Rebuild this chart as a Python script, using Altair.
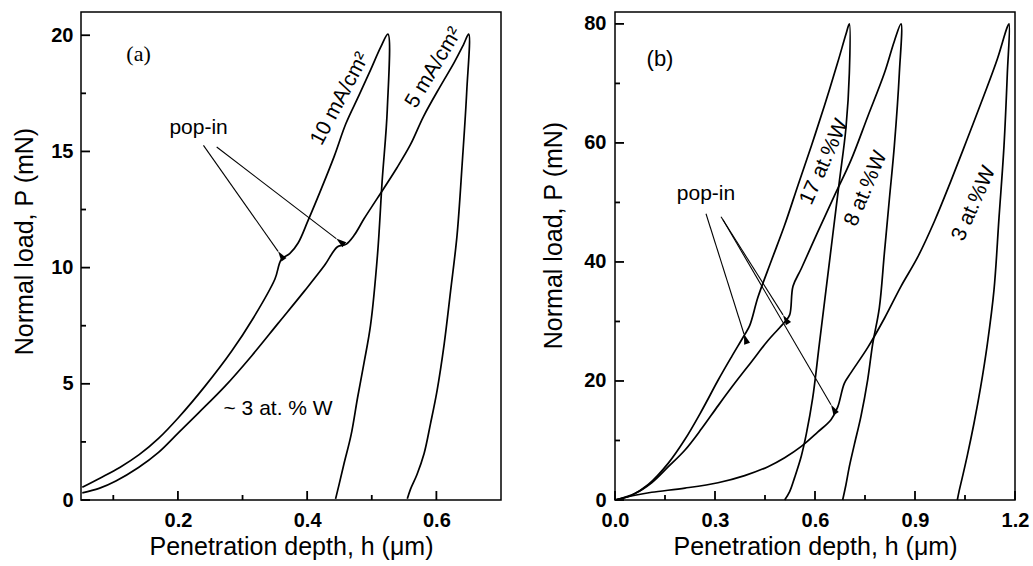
import math
import altair as alt
import pandas as pd

# ---------------- Panel (a) data ----------------
a10_load_x = [0.052, 0.080, 0.110, 0.140, 0.170, 0.201, 0.242, 0.283, 0.316, 0.350, 0.360, 0.373, 0.386, 0.401, 0.422, 0.442, 0.460, 0.480, 0.498, 0.514, 0.525]
a10_load_y = [0.55, 0.95, 1.4, 1.95, 2.65, 3.55, 4.9, 6.4, 7.8, 9.5, 10.35, 10.6, 11.06, 12.0, 13.4, 14.8, 16.2, 17.4, 18.5, 19.5, 20.05]
a10_unl_x = [0.524, 0.516, 0.509, 0.498, 0.488, 0.478, 0.468, 0.457, 0.449, 0.444]
a10_unl_y = [16.8, 13.7, 10.6, 7.5, 5.9, 4.4, 2.8, 1.56, 0.62, 0.05]

a5_load_x = [0.052, 0.078, 0.104, 0.139, 0.170, 0.201, 0.232, 0.273, 0.314, 0.355, 0.396, 0.427, 0.447, 0.460, 0.473, 0.488, 0.509, 0.539, 0.560, 0.580, 0.606, 0.627, 0.642, 0.650]
a5_load_y = [0.31, 0.50, 0.82, 1.4, 2.05, 2.9, 3.75, 4.9, 6.2, 7.6, 9.0, 10.1, 10.9, 11.0, 11.4, 12.1, 13.0, 14.3, 15.3, 16.5, 17.8, 18.8, 19.6, 20.05]
a5_unl_x = [0.647, 0.640, 0.632, 0.622, 0.612, 0.601, 0.591, 0.581, 0.570, 0.560, 0.555]
a5_unl_y = [17.6, 14.5, 11.4, 9.0, 6.7, 4.7, 3.3, 2.0, 1.1, 0.47, 0.05]

# ---------------- Panel (b) data ----------------
b17_load_x = [0.0, 0.05, 0.10, 0.16, 0.21, 0.26, 0.31, 0.35, 0.387, 0.404, 0.429, 0.469, 0.509, 0.549, 0.589, 0.628, 0.668, 0.693, 0.703]
b17_load_y = [0.0, 0.8, 2.6, 6.2, 10.2, 15.0, 20.2, 24.1, 27.6, 29.3, 34.1, 40.2, 46.2, 52.9, 59.5, 66.2, 73.5, 78.3, 80.0]
b17_unl_x = [0.703, 0.693, 0.673, 0.653, 0.633, 0.613, 0.593, 0.574, 0.559, 0.539, 0.524, 0.509]
b17_unl_y = [71.7, 62.6, 53.5, 44.4, 35.3, 26.2, 17.1, 11.1, 7.4, 3.8, 1.4, 0.0]

b8_load_x = [0.0, 0.06, 0.11, 0.16, 0.21, 0.26, 0.31, 0.359, 0.409, 0.459, 0.509, 0.524, 0.534, 0.559, 0.608, 0.658, 0.708, 0.758, 0.808, 0.838, 0.858]
b8_load_y = [0.0, 1.1, 2.9, 5.6, 8.4, 12.0, 15.9, 19.6, 23.2, 26.8, 29.9, 31.1, 35.9, 38.9, 45.0, 51.1, 57.1, 64.4, 71.7, 77.1, 80.0]
b8_unl_x = [0.853, 0.838, 0.823, 0.808, 0.793, 0.773, 0.758, 0.738, 0.718, 0.703, 0.693, 0.683]
b8_unl_y = [71.7, 59.5, 50.5, 41.4, 32.3, 26.2, 20.2, 14.1, 9.3, 5.6, 2.6, 0.0]

b3_load_x = [0.0, 0.06, 0.11, 0.21, 0.309, 0.389, 0.459, 0.509, 0.559, 0.608, 0.648, 0.668, 0.688, 0.708, 0.758, 0.808, 0.858, 0.908, 0.958, 1.007, 1.057, 1.107, 1.147, 1.177, 1.182]
b3_load_y = [0.0, 0.8, 1.3, 2.0, 2.9, 4.1, 5.6, 7.1, 9.0, 11.4, 13.5, 15.6, 19.6, 21.4, 25.6, 30.5, 35.9, 40.8, 46.8, 53.5, 60.7, 68.0, 74.1, 79.5, 80.0]
b3_unl_x = [1.177, 1.167, 1.152, 1.137, 1.117, 1.097, 1.077, 1.057, 1.042, 1.032, 1.027]
b3_unl_y = [71.7, 59.5, 47.4, 35.3, 26.2, 19.0, 12.9, 7.5, 3.8, 1.4, 0.0]

# ---------------- annotations ----------------
a_arrow_x0 = [0.2395, 0.260]
a_arrow_y0 = [15.26, 15.19]
a_arrow_x1 = [0.355, 0.445]
a_arrow_y1 = [10.7, 11.25]
a_label_text = ["10 mA/cm²", "5 mA/cm²", "~ 3 at. % W", "pop-in"]
a_label_x = [0.451, 0.596, 0.355, 0.232]
a_label_y = [17.26, 18.6, 3.9, 16.0]
a_label_rot = [298, 301, 0, 0]

b_arrow_x0 = [0.273, 0.318, 0.324]
b_arrow_y0 = [48.1, 47.6, 47.1]
b_arrow_x1 = [0.387, 0.504, 0.648]
b_arrow_y1 = [27.9, 31.1, 16.0]
b_label_text = ["17 at.%W", "8 at.%W", "3 at.%W", "pop-in"]
b_label_x = [0.628, 0.753, 1.077, 0.273]
b_label_y = [56.8, 52.3, 49.8, 51.4]
b_label_rot = [294, 293, 294, 0]

a_xmaj = [0.2, 0.4, 0.6]
a_xmin = [0.1, 0.3, 0.5]
a_ymaj = [0, 5, 10, 15, 20]
a_ymin = [2.5, 7.5, 12.5, 17.5]
b_xmaj = [0.0, 0.3, 0.6, 0.9, 1.2]
b_xmin = [0.15, 0.45, 0.75, 1.05]
b_ymaj = [0, 20, 40, 60, 80]
b_ymin = [10, 30, 50, 70]

FONT = "Liberation Sans"
XTITLE = "Penetration depth, h (μm)"
YTITLE = "Normal load, P (mN)"
MAJ_LEN, MIN_LEN = 9, 5  # inward tick lengths in pixels


def curves_df(curves):
    rows = []
    for name, lx, ly, ux, uy in curves:
        xs = lx + ux
        ys = ly + uy
        for i, (x, y) in enumerate(zip(xs, ys)):
            rows.append({"s": name, "i": i, "x": x, "y": y})
    return pd.DataFrame(rows)


def ticks_df(xdom, ydom, W, H, xmaj, xmin, ymaj, ymin):
    xr = xdom[1] - xdom[0]
    yr = ydom[1] - ydom[0]
    rows = []
    for k, v in enumerate(xmaj + xmin):
        ln = MAJ_LEN if k < len(xmaj) else MIN_LEN
        rows.append({"x": v, "y": ydom[0], "x2": v, "y2": ydom[0] + ln * yr / H})
    for k, v in enumerate(ymaj + ymin):
        ln = MAJ_LEN if k < len(ymaj) else MIN_LEN
        rows.append({"x": xdom[0], "y": v, "x2": xdom[0] + ln * xr / W, "y2": v})
    return pd.DataFrame(rows)


def panel(curves, ax0, ay0, ax1, ay1, ltext, lx, ly, lrot, tag, tag_x, tag_y, tag_font,
          xdom, ydom, W, H, xmaj, xmin, ymaj, ymin, title_y, lpad, tpad):
    xs = alt.Scale(domain=xdom, nice=False, zero=False)
    ys = alt.Scale(domain=ydom, nice=False, zero=False)
    xr = xdom[1] - xdom[0]
    yr = ydom[1] - ydom[0]
    df = curves_df(curves)
    lines = alt.Chart(df).mark_line(color="black", strokeWidth=1.7,
                                    interpolate="catmull-rom").encode(
        x=alt.X("x:Q", scale=xs, axis=alt.Axis(
            values=xmaj, format=".1f", title=XTITLE,
            labelFlush=False, labelPadding=10, titlePadding=4)),
        y=alt.Y("y:Q", scale=ys, axis=alt.Axis(
            values=ymaj, format="d", title=YTITLE,
            labelPadding=lpad, titlePadding=tpad, titleY=title_y)),
        detail="s:N",
        order="i:Q",
    )
    adf = pd.DataFrame({"x": ax0, "y": ay0, "x2": ax1, "y2": ay1})
    adf["ang"] = [
        (math.degrees(math.atan2((b - a) / xr * W, (d - c) / yr * H)) + 180 + 360) % 360
        for a, b, c, d in zip(adf.x, adf.x2, adf.y, adf.y2)
    ]
    tdf_ticks = ticks_df(xdom, ydom, W, H, xmaj, xmin, ymaj, ymin)
    rules_df = pd.concat([adf[["x", "y", "x2", "y2"]].assign(w=1.1),
                          tdf_ticks.assign(w=1.8)], ignore_index=True)
    rules = alt.Chart(rules_df).mark_rule(color="black").encode(
        x=alt.X("x:Q", scale=xs), y=alt.Y("y:Q", scale=ys),
        x2="x2:Q", y2="y2:Q", strokeWidth=alt.StrokeWidth("w:Q", scale=None))
    heads = alt.Chart(adf).mark_point(
        shape="M0,0L-0.3,1L0.3,1Z", filled=True, color="black", opacity=1, size=420,
        strokeWidth=0).encode(
        x=alt.X("x2:Q", scale=xs), y=alt.Y("y2:Q", scale=ys),
        angle=alt.Angle("ang:Q", scale=None))
    tdf = pd.DataFrame({"t": ltext, "x": lx, "y": ly, "r": lrot})
    texts = alt.Chart(tdf).mark_text(font=FONT, fontSize=21, color="black", align="center",
                                     baseline="middle").encode(
        x=alt.X("x:Q", scale=xs), y=alt.Y("y:Q", scale=ys),
        text="t:N", angle=alt.Angle("r:Q", scale=None))
    tagc = alt.Chart(pd.DataFrame({"t": [tag], "x": [tag_x], "y": [tag_y]})).mark_text(
        font=tag_font, fontSize=22, color="black", align="center", baseline="middle").encode(
        x=alt.X("x:Q", scale=xs), y=alt.Y("y:Q", scale=ys), text="t:N")
    layer = alt.layer(lines, rules, heads, texts, tagc).properties(width=W, height=H)
    return layer


A_W, A_H = 420, 488
B_W, B_H = 400, 488

pa = panel(
    [("10", a10_load_x, a10_load_y, a10_unl_x, a10_unl_y),
     ("5", a5_load_x, a5_load_y, a5_unl_x, a5_unl_y)],
    a_arrow_x0, a_arrow_y0, a_arrow_x1, a_arrow_y1,
    a_label_text, a_label_x, a_label_y, a_label_rot,
    "(a)", 0.139, 19.2, "Liberation Serif",
    [0.05, 0.70], [0, 21], A_W, A_H, a_xmaj, a_xmin, a_ymaj, a_ymin, 229, 8, 13)

pb = panel(
    [("17", b17_load_x, b17_load_y, b17_unl_x, b17_unl_y),
     ("8", b8_load_x, b8_load_y, b8_unl_x, b8_unl_y),
     ("3", b3_load_x, b3_load_y, b3_unl_x, b3_unl_y)],
    b_arrow_x0, b_arrow_y0, b_arrow_x1, b_arrow_y1,
    b_label_text, b_label_x, b_label_y, b_label_rot,
    "(b)", 0.135, 74.1, FONT,
    [0.0, 1.2], [0, 82], B_W, B_H, b_xmaj, b_xmin, b_ymaj, b_ymin, 223, 9, 17)

chart = alt.hconcat(pa, pb, spacing=39).properties(
    padding={"left": 12, "top": 11, "right": 0, "bottom": 0},
    background="white",
).configure_view(stroke="black", strokeWidth=1.5).configure_axis(
    grid=False, ticks=False, domain=False,
    labelFont=FONT, labelFontWeight="bold", labelFontSize=20, labelColor="black",
    titleFont=FONT, titleFontWeight="normal", titleFontSize=25, titleColor="black",
)

chart.save("out.html", embed_options={"renderer": "svg", "actions": False})
